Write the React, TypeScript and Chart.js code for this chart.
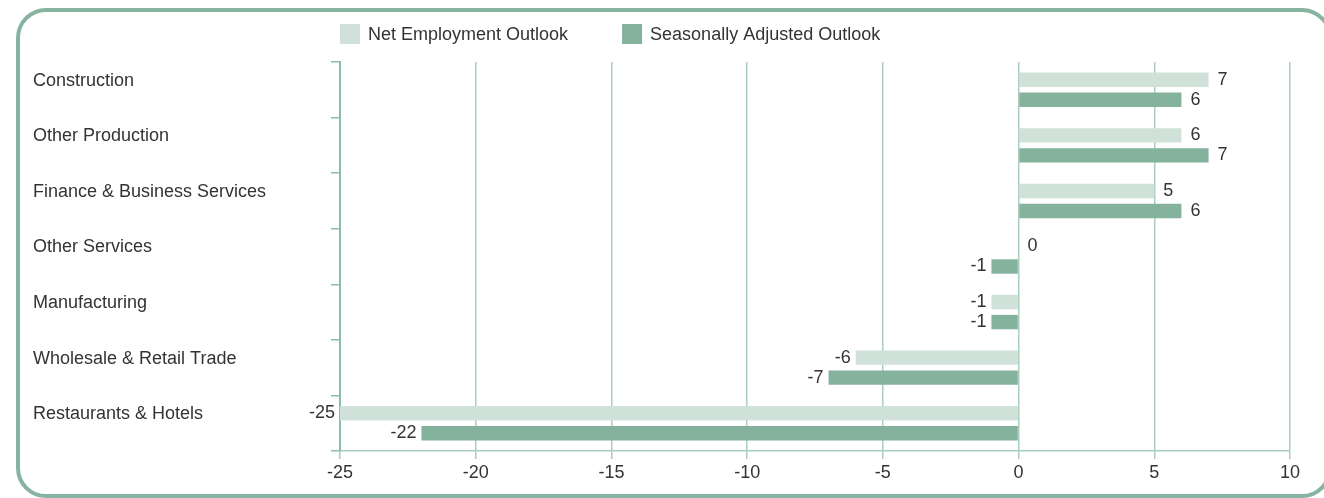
import React, { useEffect, useRef } from "react";
import { Chart, registerables } from "chart.js";

Chart.register(...registerables);

const categories = [
  "Construction",
  "Other Production",
  "Finance & Business Services",
  "Other Services",
  "Manufacturing",
  "Wholesale & Retail Trade",
  "Restaurants & Hotels",
];
const netEmploymentOutlook = [7, 6, 5, 0, -1, -6, -25];
const seasonallyAdjustedOutlook = [6, 7, 6, -1, -1, -7, -22];
const seriesLabels = ["Net Employment Outlook", "Seasonally Adjusted Outlook"];
const xMin = -25;
const xMax = 10;
const xStep = 5;

const LIGHT = "#cfe1d8";
const DARK = "#85b29d";
const GRID = "#aacdbd";
const AXIS = "#8dbda7";
const TEXT = "#333333";
const FONT = "'Liberation Sans', Arial, Helvetica, sans-serif";

const valueLabels = {
  id: "valueLabels",
  afterDatasetsDraw(chart: any) {
    const ctx = chart.ctx;
    ctx.save();
    ctx.font = `18px ${FONT}`;
    ctx.fillStyle = TEXT;
    ctx.textBaseline = "middle";
    chart.data.datasets.forEach((ds: any, di: number) => {
      const meta = chart.getDatasetMeta(di);
      meta.data.forEach((el: any, i: number) => {
        const v = ds.data[i];
        if (v >= 0) {
          ctx.textAlign = "left";
          ctx.fillText(String(v), el.x + 9, el.y);
        } else {
          ctx.textAlign = "right";
          ctx.fillText(String(v), el.x - 5, el.y);
        }
      });
    });
    ctx.restore();
  },
};

const customLegend = {
  id: "customLegend",
  afterDraw(chart: any) {
    const ctx = chart.ctx;
    const area = chart.chartArea;
    ctx.save();
    ctx.font = `18px ${FONT}`;
    ctx.textBaseline = "middle";
    ctx.textAlign = "left";
    let x = area.left;
    const boxTop = area.top - 38;
    chart.data.datasets.forEach((ds: any) => {
      ctx.fillStyle = ds.backgroundColor;
      ctx.fillRect(x, boxTop, 20, 20);
      ctx.fillStyle = TEXT;
      ctx.fillText(ds.label, x + 28, boxTop + 11);
      x += 28 + ctx.measureText(ds.label).width + 54;
    });
    ctx.restore();
  },
};

export default function App() {
  const ref = useRef<HTMLCanvasElement | null>(null);

  useEffect(() => {
    if (!ref.current) return;
    const chart = new Chart(ref.current, {
      type: "bar",
      data: {
        labels: categories,
        datasets: [
          {
            label: seriesLabels[0],
            data: netEmploymentOutlook,
            backgroundColor: LIGHT,
            borderWidth: 0,
            categoryPercentage: 0.72,
            barPercentage: 0.72,
          },
          {
            label: seriesLabels[1],
            data: seasonallyAdjustedOutlook,
            backgroundColor: DARK,
            borderWidth: 0,
            categoryPercentage: 0.72,
            barPercentage: 0.72,
          },
        ],
      },
      options: {
        indexAxis: "y",
        responsive: false,
        animation: false,
        layout: { padding: { left: 33, top: 62, right: 34, bottom: 0 } },
        plugins: {
          legend: { display: false },
          tooltip: { enabled: false },
        },
        scales: {
          x: {
            min: xMin,
            max: xMax,
            ticks: {
              stepSize: xStep,
              font: { family: FONT, size: 18 },
              color: TEXT,
              padding: 3,
            },
            grid: {
              color: GRID,
              lineWidth: 1.5,
              drawTicks: true,
              tickLength: 8,
            },
            border: { display: true, color: GRID, width: 1.5 },
            afterFit: (s: any) => {
              s.height = 47;
            },
          },
          y: {
            grid: {
              display: true,
              drawOnChartArea: false,
              drawTicks: true,
              tickLength: 9,
              color: AXIS,
              lineWidth: 1.5,
              offset: true,
            },
            border: { display: true, color: AXIS, width: 2 },
            ticks: {
              crossAlign: "far",
              padding: 10,
              labelOffset: -9,
              font: { family: FONT, size: 18 },
              color: TEXT,
            },
            afterFit: (s: any) => {
              s.width = 307;
            },
          },
        },
      },
      plugins: [valueLabels, customLegend],
    });
    return () => chart.destroy();
  }, []);

  return (
    <div
      style={{
        position: "fixed",
        left: 0,
        top: 0,
        width: 1324,
        height: 498,
        overflow: "hidden",
        background: "#ffffff",
      }}
    >
      <div
        style={{
          position: "absolute",
          left: 16,
          top: 8,
          width: 1316,
          height: 490,
          boxSizing: "border-box",
          border: "4px solid #86b4a0",
          borderRadius: 30,
        }}
      />
      <canvas
        ref={ref}
        width={1324}
        height={498}
        style={{ position: "absolute", left: 0, top: 0, width: 1324, height: 498 }}
      />
    </div>
  );
}
